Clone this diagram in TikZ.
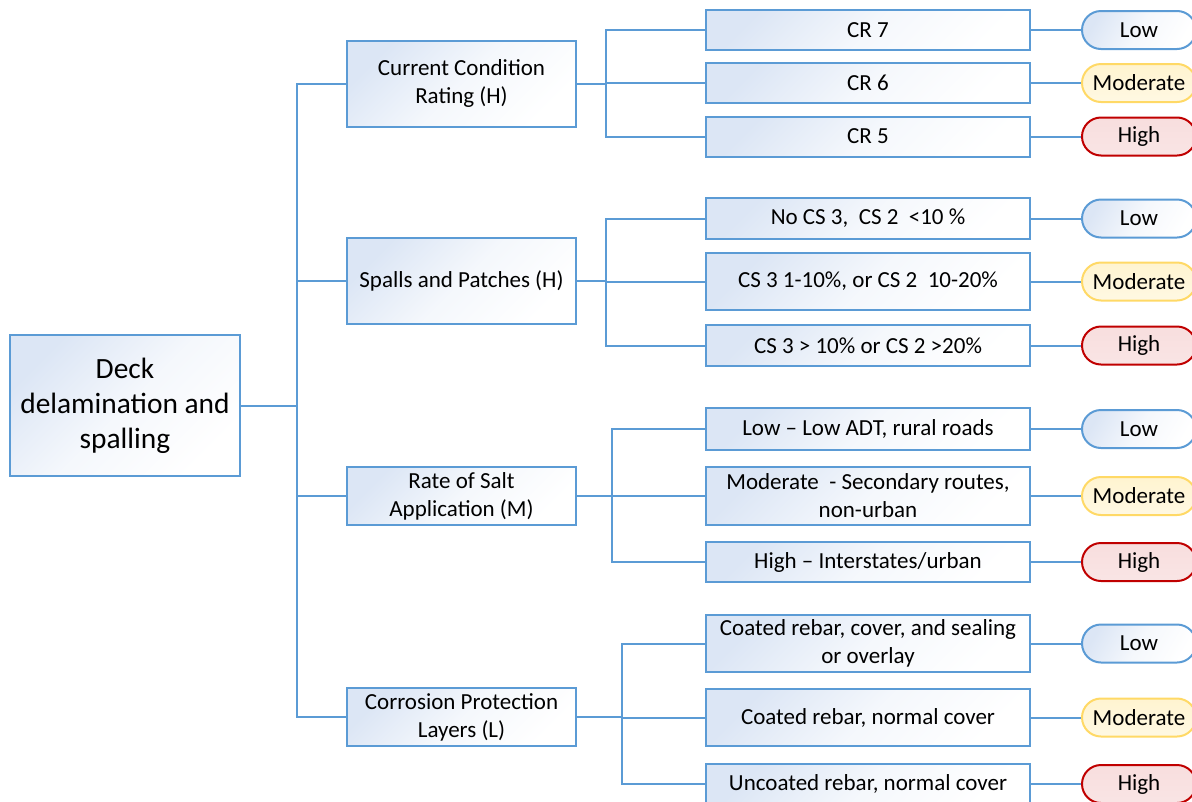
\documentclass[tikz,border=0pt]{standalone}
\usepackage{fontspec}
\setmainfont{Carlito}
\usepackage{xcolor}
\definecolor{lineblue}{RGB}{91,155,213}
\definecolor{boxtint}{RGB}{220,230,245}
\definecolor{modedge}{RGB}{255,217,102}
\definecolor{modfill}{RGB}{255,244,208}
\definecolor{highedge}{RGB}{192,0,0}
\definecolor{highfill}{RGB}{248,222,222}
\usepackage{tikz}
\usetikzlibrary{positioning,shapes.misc}

\begin{document}
\begin{tikzpicture}[x=1pt, y=-1pt,
  rootbox/.style={rectangle, draw=lineblue, line width=2pt, top color=boxtint, bottom color=white, middle color=boxtint!30, shading angle=45, minimum width=230pt, minimum height=141pt, inner sep=0pt, align=center, font=\fontsize{29.4}{35}\selectfont},
  catbox/.style={rectangle, draw=lineblue, line width=2pt, top color=boxtint, bottom color=white, middle color=boxtint!30, shading angle=45, minimum width=229pt, minimum height=58pt, inner sep=0pt, align=center, font=\fontsize{23}{28}\selectfont},
  levelbox/.style={catbox, minimum width=324pt, minimum height=40pt},
  lowpill/.style={rounded rectangle, draw=lineblue, line width=2pt, top color=boxtint, bottom color=white, middle color=boxtint!30, shading angle=60, minimum width=114pt, minimum height=38pt, inner sep=0pt, font=\fontsize{23}{28}\selectfont},
  modpill/.style={lowpill, draw=modedge, top color=modfill, bottom color=modfill!60, middle color=modfill!80},
  highpill/.style={lowpill, draw=highedge, top color=highfill, bottom color=highfill!80, middle color=highfill!90},
  link/.style={draw=lineblue, line width=2pt}
]
\useasboundingbox (0,0) rectangle (1192,801);
\clip (0,0) rectangle (1192,801);

% Root
\node[rootbox] (deck) at (125,405.5) {Deck\\delamination and\\spalling};

% Factors
\node[catbox, minimum height=86pt] (rating) at (461.5,83.5) {Current Condition\\Rating (H)};
\node[catbox, minimum height=86pt] (spalls) at (461.5,281) {Spalls and Patches (H)};
\node[catbox] (salt) at (461.5,496) {Rate of Salt\\Application (M)};
\node[catbox] (protect) at (461.5,717) {Corrosion Protection\\Layers (L)};

% Condition rating levels
\node[levelbox] (cr7) at (868,30) {CR 7};
\node[levelbox] (cr6) at (868,83) {CR 6};
\node[levelbox] (cr5) at (868,136.5) {CR 5};

% Spall levels
\node[levelbox, minimum height=41pt] (sp1) at (868,218.5) {No CS 3,\ \ CS 2\ \ <10 \%};
\node[levelbox, minimum height=57pt] (sp2) at (868,281.5) {CS 3 1-10\%, or CS 2\ \ 10-20\%};
\node[levelbox, minimum height=41pt] (sp3) at (868,345.5) {CS 3 > 10\% or CS 2 >20\%};

% Salt levels
\node[levelbox, minimum height=42pt] (salt1) at (868,429) {Low – Low ADT, rural roads};
\node[levelbox, minimum height=58pt] (salt2) at (868,496) {Moderate\ \ - Secondary routes,\\non-urban};
\node[levelbox] (salt3) at (868,562) {High – Interstates/urban};

% Protection levels
\node[levelbox, minimum height=57pt] (cor1) at (868,643.5) {Coated rebar, cover, and sealing\\or overlay};
\node[levelbox, minimum height=57pt] (cor2) at (868,717.5) {Coated rebar, normal cover};
\node[levelbox] (cor3) at (868,784) {Uncoated rebar, normal cover};

% Risk pills
\node[lowpill] (low1) at (1139,30) {Low};
\node[modpill] (mod1) at (1139,83) {Moderate};
\node[highpill] (high1) at (1139,136.5) {High};
\node[lowpill] (low2) at (1139,218.5) {Low};
\node[modpill] (mod2) at (1139,281.5) {Moderate};
\node[highpill] (high2) at (1139,345.5) {High};
\node[lowpill] (low3) at (1139,429) {Low};
\node[modpill] (mod3) at (1139,496) {Moderate};
\node[highpill] (high3) at (1139,562) {High};
\node[lowpill] (low4) at (1139,643.5) {Low};
\node[modpill] (mod4) at (1139,717.5) {Moderate};
\node[highpill] (high4) at (1139,784) {High};

% Connections
\foreach \n in {rating,spalls,salt,protect}
  \draw[link] (deck.east) -- ++(56,0) |- (\n.west);
\foreach \n in {cr7,cr6,cr5}
  \draw[link] (rating.east) -- ++(29,0) |- (\n.west);
\foreach \n in {sp1,sp2,sp3}
  \draw[link] (spalls.east) -- ++(29,0) |- (\n.west);
\foreach \n in {salt1,salt2,salt3}
  \draw[link] (salt.east) -- ++(35,0) |- (\n.west);
\foreach \n in {cor1,cor2,cor3}
  \draw[link] (protect.east) -- ++(45,0) |- (\n.west);
\foreach \a/\b in {cr7/low1,cr6/mod1,cr5/high1,sp1/low2,sp2/mod2,sp3/high2,salt1/low3,salt2/mod3,salt3/high3,cor1/low4,cor2/mod4,cor3/high4}
  \draw[link] (\a.east) -- (\b.west);

\end{tikzpicture}
\end{document}
